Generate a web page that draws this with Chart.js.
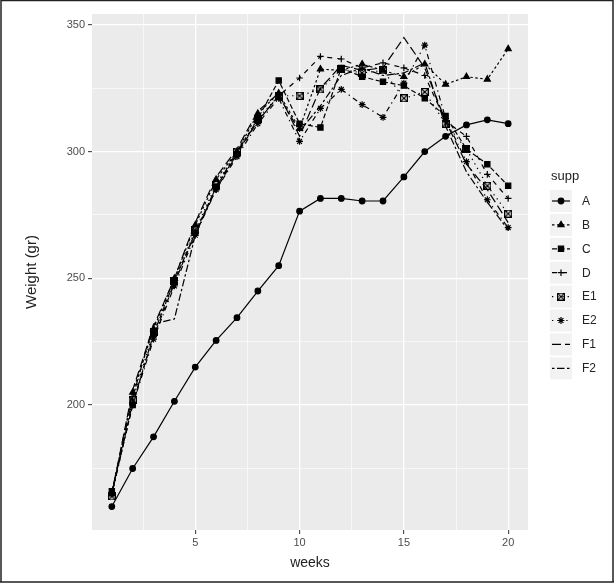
<!DOCTYPE html>
<html>
<head>
<meta charset="utf-8">
<script src="https://cdn.jsdelivr.net/npm/chart.js@4.4.0/dist/chart.umd.min.js"></script>
<style>
  html, body { margin: 0; padding: 0; background: #fff; }
  #wrap { width: 614px; height: 586px; }
</style>
</head>
<body>
<div id="wrap"><canvas id="plot" width="614" height="586"></canvas></div>
<script>
// weeks on the x axis
var weeks = [1, 2, 3, 4, 5, 6, 7, 8, 9, 10, 11, 12, 13, 14, 15, 16, 17, 18, 19, 20];

// weight per supplement group
var suppA  = [160, 175, 187.5, 201.5, 215, 225.5, 234.5, 245, 255, 276.5, 281.5, 281.5, 280.5, 280.5, 290, 300, 306, 310.5, 312.5, 311];
var suppB  = [165, 205, 230, 250, 271, 289, 300, 315, 323, 309, 332.5, 332, 334.5, 332, 329.5, 334.5, 326.5, 329.5, 328.5, 340.5];
var suppC  = [166, 200, 228, 249, 268, 286, 299, 313, 328, 311, 309.5, 333, 329.5, 327.5, 326, 321, 314, 301, 295, 286.5];
var suppD  = [165, 201, 227, 248, 268, 285, 299, 312, 322, 329, 337.5, 336.5, 333, 335, 333, 330, 312, 306, 291, 281.5];
var suppE1 = [164, 202, 229, 249, 269, 287, 300, 313, 322, 322, 324.5, 332.5, 331, 332, 321, 323.5, 311, 301, 286.5, 275.5];
var suppE2 = [165, 200, 226, 247, 267, 285, 298, 311, 321, 304, 317, 324.5, 318.5, 313.5, 327, 342, 313, 296, 281, 270];
var suppF1 = [165, 206, 231, 250, 272, 290, 301, 316, 323, 306, 325, 334, 332, 333, 345, 333, 312, 295, 285, 272];
var suppF2 = [165, 203, 232, 234, 267, 286, 300, 312, 322, 308, 318, 330, 333, 330, 331, 335, 310, 292, 280, 269];

var groupNames = ['A', 'B', 'C', 'D', 'E1', 'E2', 'F1', 'F2'];

// axis ticks (majors get labels, the others are minor grid lines)
var xTicks = [2.5, 5, 7.5, 10, 12.5, 15, 17.5, 20];
var xLabels = [5, 10, 15, 20];
var yTicks = [175, 200, 225, 250, 275, 300, 325, 350];
var yLabels = [200, 250, 300, 350];

// open square with an X (ggplot shape 7)
function boxCross() {
    var c = document.createElement('canvas');
    c.width = 8; c.height = 8;
    var g = c.getContext('2d');
    g.strokeStyle = '#000';
    g.lineWidth = 1.2;
    g.strokeRect(0.6, 0.6, 6.8, 6.8);
    g.beginPath();
    g.moveTo(0.6, 0.6); g.lineTo(7.4, 7.4);
    g.moveTo(7.4, 0.6); g.lineTo(0.6, 7.4);
    g.stroke();
    return c;
}

var styles = [
    { dash: [],           point: 'circle',   r: 2.8 },
    { dash: [2.5, 2.5],   point: 'triangle', r: 3.5 },
    { dash: [5, 2.5],     point: 'rect',     r: 3.7 },
    { dash: [5, 5],       point: 'cross',    r: 3.3 },
    { dash: [1.3, 3.9],   point: boxCross(), r: 4 },
    { dash: [1.3, 3.9, 5.2, 3.9], point: 'star', r: 3.4 },
    { dash: [9, 4],       point: 'circle',   r: 0 },
    { dash: [2.5, 2.5, 7.5, 2.5], point: 'circle', r: 0 }
];

var series = [suppA, suppB, suppC, suppD, suppE1, suppE2, suppF1, suppF2];

var datasets = series.map(function(vals, i) {
    var st = styles[i];
    return {
        label: groupNames[i],
        data: weeks.map(function(w, k) { return { x: w, y: vals[k] }; }),
        borderColor: '#000',
        backgroundColor: '#000',
        borderWidth: 1.2,
        borderDash: st.dash,
        pointStyle: st.point,
        pointRadius: st.r,
        pointBorderWidth: 1.2,
        pointHoverRadius: st.r,
        tension: 0
    };
});

var panelBg = {
    id: 'panelBg',
    beforeDraw: function(chart) {
        var ctx = chart.ctx, a = chart.chartArea;
        ctx.save();
        ctx.fillStyle = '#fff';
        ctx.fillRect(0, 0, chart.width, chart.height);
        ctx.fillStyle = '#EBEBEB';
        ctx.fillRect(a.left, a.top, a.right - a.left, a.bottom - a.top);
        ctx.restore();
    },
    afterDraw: function(chart) {
        // image frame
        var ctx = chart.ctx;
        ctx.save();
        ctx.strokeStyle = '#222';
        ctx.lineWidth = 1.5;
        ctx.beginPath();
        ctx.moveTo(1, 0.5); ctx.lineTo(613, 0.5);
        ctx.moveTo(1, 0); ctx.lineTo(1, 582);
        ctx.moveTo(0, 582); ctx.lineTo(614, 582);
        ctx.moveTo(613, 0); ctx.lineTo(613, 582);
        ctx.stroke();
        ctx.restore();
    }
};

var suppLegend = {
    id: 'suppLegend',
    afterDraw: function(chart) {
        var ctx = chart.ctx;
        ctx.save();
        ctx.fillStyle = '#222';
        ctx.font = '13px "Liberation Sans", Arial, sans-serif';
        ctx.textBaseline = 'middle';
        ctx.fillText('supp', 551, 176);
        chart.data.datasets.forEach(function(ds, i) {
            var cy = 201 + i * 23.9;
            ctx.fillStyle = '#F2F2F2';
            ctx.fillRect(550, cy - 11, 22, 22);
            ctx.strokeStyle = '#000';
            ctx.fillStyle = '#000';
            ctx.lineWidth = 1.2;
            ctx.setLineDash(ds.borderDash);
            ctx.beginPath();
            ctx.moveTo(552, cy);
            ctx.lineTo(570, cy);
            ctx.stroke();
            ctx.setLineDash([]);
            if (ds.pointRadius > 0) {
                Chart.helpers.drawPoint(ctx, {
                    pointStyle: ds.pointStyle, rotation: 0,
                    radius: ds.pointRadius, borderWidth: 1.2
                }, 561, cy);
            }
            ctx.fillStyle = '#222';
            ctx.font = '12px "Liberation Sans", Arial, sans-serif';
            ctx.fillText(ds.label, 582, cy + 0.5);
        });
        ctx.restore();
    }
};

function gridOpts(labels) {
    return {
        color: '#FFFFFF',
        lineWidth: function(c) { return labels.indexOf(c.tick.value) >= 0 ? 1.3 : 0.6; },
        tickColor: function(c) { return labels.indexOf(c.tick.value) >= 0 ? '#333' : 'rgba(0,0,0,0)'; },
        tickWidth: 1,
        tickLength: 4,
        drawTicks: true
    };
}

new Chart(document.getElementById('plot'), {
    type: 'line',
    data: { datasets: datasets },
    options: {
        responsive: false,
        animation: false,
        events: [],
        layout: { padding: { left: 0, right: 86, top: 14, bottom: 0 } },
        plugins: {
            legend: { display: false },
            tooltip: { enabled: false }
        },
        scales: {
            x: {
                type: 'linear',
                min: 0.05,
                max: 20.95,
                afterFit: function(s) { s.height = 56; },
                afterBuildTicks: function(s) {
                    s.ticks = xTicks.map(function(v) { return { value: v }; });
                },
                border: { display: false },
                grid: gridOpts(xLabels),
                ticks: {
                    autoSkip: false,
                    maxRotation: 0,
                    padding: 2,
                    color: '#4D4D4D',
                    font: { family: '"Liberation Sans", Arial, sans-serif', size: 11 },
                    callback: function(v) { return xLabels.indexOf(v) >= 0 ? String(v) : ''; }
                },
                title: {
                    display: true,
                    text: 'weeks',
                    color: '#222',
                    font: { family: '"Liberation Sans", Arial, sans-serif', size: 14 },
                    padding: { top: 0, bottom: 14.5 }
                }
            },
            y: {
                type: 'linear',
                min: 150.75,
                max: 354.25,
                afterFit: function(s) { s.width = 92; },
                afterBuildTicks: function(s) {
                    s.ticks = yTicks.map(function(v) { return { value: v }; });
                },
                border: { display: false },
                grid: gridOpts(yLabels),
                ticks: {
                    autoSkip: false,
                    padding: 3,
                    color: '#4D4D4D',
                    font: { family: '"Liberation Sans", Arial, sans-serif', size: 11 },
                    callback: function(v) { return yLabels.indexOf(v) >= 0 ? String(v) : ''; }
                },
                title: {
                    display: true,
                    text: 'Weight (gr)',
                    color: '#222',
                    font: { family: '"Liberation Sans", Arial, sans-serif', size: 15 },
                    padding: { top: 23, bottom: 0 }
                }
            }
        }
    },
    plugins: [panelBg, suppLegend]
});
</script>
</body>
</html>
